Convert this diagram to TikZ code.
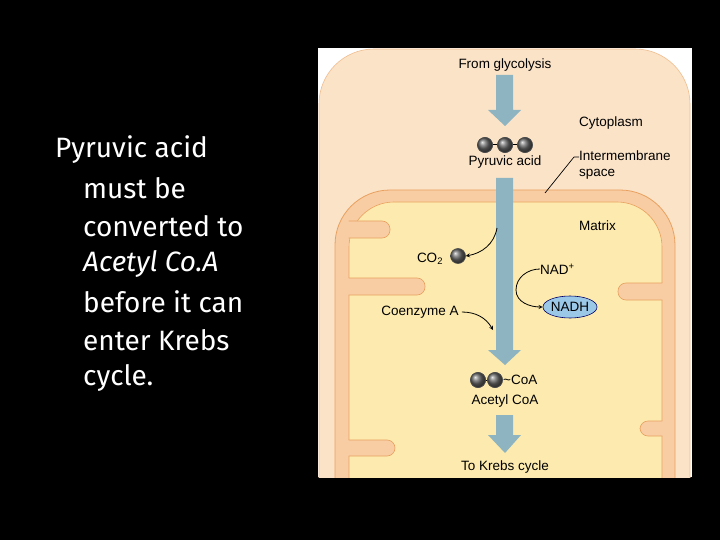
\documentclass[tikz,border=0pt]{standalone}
\usepackage{fontspec}
\setmainfont{Liberation Sans}
\newfontfamily\slidefont{Fira Sans}
\usetikzlibrary{shapes.geometric}
\definecolor{peach}{HTML}{FBE3C8}
\definecolor{ims}{HTML}{F9CDA4}
\definecolor{matrixc}{HTML}{FCEAAE}
\definecolor{memb}{HTML}{E9A05E}
\definecolor{flow}{HTML}{8DB4C0}
\definecolor{nadh}{HTML}{9CC8E8}
\tikzset{
 lbl/.style={font=\fontsize{13.5}{14}\selectfont, inner sep=0pt},
 slide/.style={font=\slidefont\fontsize{28}{30}\selectfont, text=white, anchor=west, inner sep=0pt},
 ball/.style={circle, draw=black!70, line width=0.6pt, inner sep=0pt, minimum size=15pt, ball color=gray!80!black},
 thin/.style={->, >=stealth, line width=0.8pt},
 cfill/.style={fill=ims, rounded corners=8pt},
 cline/.style={draw=memb, line width=0.6pt, rounded corners=8pt}
}
\begin{document}
\begin{tikzpicture}[x=1pt,y=-1pt]
\fill[black] (0,0) rectangle (720,540);
\useasboundingbox (0,0) rectangle (720,540);
\fill[white] (318,48) rectangle (692,477);
\begin{scope}
\clip (318,48) rectangle (692,477);
\draw[fill=peach, draw=memb!70, line width=0.6pt, rounded corners=55pt] (319,520) -- (319,49) -- (690,49) -- (690,520);
\draw[fill=ims, draw=memb, line width=0.8pt, rounded corners=55pt] (335,520) -- (335,190) -- (675,190) -- (675,520);
\draw[fill=matrixc, draw=memb, line width=0.6pt, rounded corners=45pt] (349,520) -- (349,202) -- (662,202) -- (662,520);
% cristae left
\fill[cfill] (340,221) -- (390,221) -- (390,238) -- (340,238) -- cycle;
\draw[cline] (348.7,221) -- (390,221) -- (390,238) -- (348.7,238);
\fill[cfill] (340,278) -- (425,278) -- (425,295) -- (340,295) -- cycle;
\draw[cline] (348.7,278) -- (425,278) -- (425,295) -- (348.7,295);
\fill[cfill] (340,440) -- (395,440) -- (395,456) -- (340,456) -- cycle;
\draw[cline] (348.7,440) -- (395,440) -- (395,456) -- (348.7,456);
% cristae right
\fill[cfill] (670,283) -- (618,283) -- (618,300) -- (670,300) -- cycle;
\draw[cline] (662.3,283) -- (618,283) -- (618,300) -- (662.3,300);
\fill[cfill] (670,421) -- (640,421) -- (640,436) -- (670,436) -- cycle;
\draw[cline] (662.3,421) -- (640,421) -- (640,436) -- (662.3,436);
\end{scope}
% flow arrows
\fill[flow] (496,75) -- (513,75) -- (513,110) -- (521,110) -- (505,126) -- (488,110) -- (496,110) -- cycle;
\fill[flow] (496,178) -- (513,178) -- (513,350) -- (521,350) -- (505,365) -- (488,350) -- (496,350) -- cycle;
\fill[flow] (496,415) -- (513,415) -- (513,435) -- (521,435) -- (505,453) -- (488,435) -- (496,435) -- cycle;
% labels
\node[lbl] (fg) at (505,65) {From glycolysis};
\node[ball] (p1) at (485,145) {};
\node[ball] (p2) at (505,145) {};
\node[ball] (p3) at (525,145) {};
\draw[line width=1pt] (p1) -- (p2) (p2) -- (p3);
\node[ball] at (485,145) {};
\node[ball] at (505,145) {};
\node[ball] at (525,145) {};
\node[lbl] (pa) at (505,162) {Pyruvic acid};
\node[lbl, anchor=west] (cy) at (579,123) {Cytoplasm};
\node[lbl, anchor=north west, align=left] (is) at (579,151) {Intermembrane\\[2pt]space};
\coordinate (isl) at (545,193);
\draw[line width=0.7pt] (is.west|-0,157) -- ++(-5,0) -- (isl);
\node[lbl, anchor=west] (mx) at (579,226) {Matrix};
\node[lbl] (co2) at (430,259) {CO\textsubscript{2}};
\node[ball] (cb) at (458,256) {};
\coordinate (cs) at (497,228);
\draw[thin] (cs) to[out=260,in=10] (cb.east);
\node[lbl, anchor=west] (nad) at (540,269) {NAD\textsuperscript{+}};
\node[lbl, ellipse, draw=blue!40!black, fill=nadh, line width=0.6pt, minimum width=50pt, minimum height=22pt] (nadh) at (570,307) {NADH};
\draw[thin] (nad.west) to[out=180,in=90] (516,290) to[out=270,in=180] (nadh.west);
\node[lbl] (coa) at (420,312) {Coenzyme A};
\coordinate (ce) at (493,330);
\draw[thin] (coa.east) ++(3,0) to[out=0,in=120] (ce);
\node[ball] (a1) at (478,380) {};
\node[ball] (a2) at (495,380) {};
\draw[line width=1pt] (a1) -- (a2);
\node[ball] at (478,380) {};
\node[ball] at (495,380) {};
\node[lbl, anchor=west] (tc) at (503,380) {\textasciitilde CoA};
\node[lbl] (ac) at (505,401) {Acetyl CoA};
\node[lbl] (kr) at (505,467) {To Krebs cycle};
% slide text
\node[slide] (t1) at (55,150) {Pyruvic acid};
\node[slide] (t2) at (83,188) {must be};
\node[slide] (t3) at (83,226) {converted to};
\node[slide] (t4) at (83,264) {\itshape Acetyl Co.A};
\node[slide] (t5) at (83,302) {before it can};
\node[slide] (t6) at (83,340) {enter Krebs};
\node[slide] (t7) at (83,378) {cycle.};
\end{tikzpicture}
\end{document}
